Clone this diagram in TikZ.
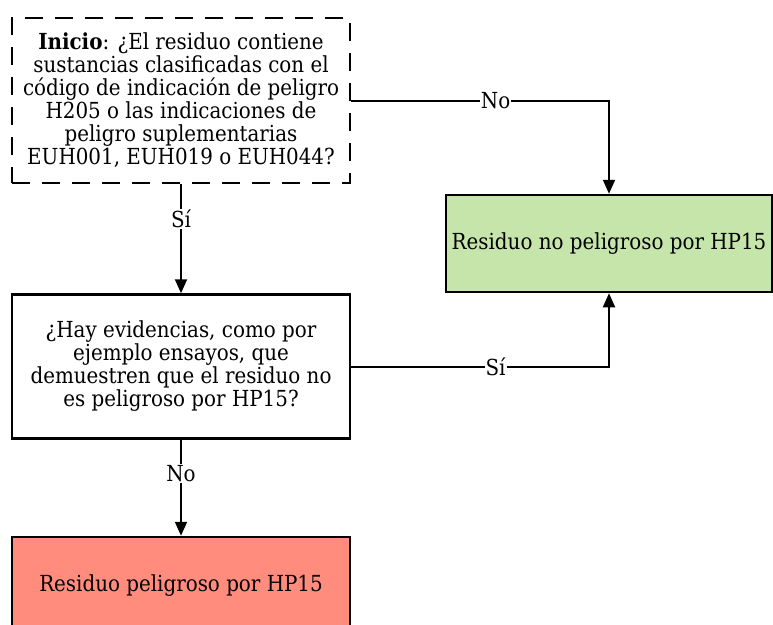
\documentclass[tikz,border=0pt]{standalone}
\usepackage{fontspec}
\setmainfont{DejaVu Serif Condensed}
\usepackage{tikz}
\usetikzlibrary{positioning,arrows.meta}
\definecolor{SafeGreen}{HTML}{C6E5AB}
\definecolor{HazardRed}{HTML}{FF8C7D}

\begin{document}
\begin{tikzpicture}[
      x=1pt, y=-1pt,
      every node/.style={align=center, font=\fontsize{22.1}{23}\selectfont},
      startbox/.style={draw, dash pattern=on 18pt off 12pt, line width=2.5pt, minimum width=338pt, minimum height=165pt},
      decision/.style={draw, fill=white, line width=2.5pt, minimum width=338pt, minimum height=144pt},
      outcome/.style={draw, line width=2.5pt, minimum height=97pt},
      arrow/.style={line width=2pt, -{Triangle[length=14pt,width=12pt]}},
      edgetext/.style={fill=white, inner sep=1pt}
    ]
      \useasboundingbox (0,0) rectangle (773,624);

      \node[startbox] (inicio) at (181,100.5) {\textbf{Inicio}: ¿El residuo contiene\\sustancias clasificadas con el\\código de indicación de peligro\\H205 o las indicaciones de\\peligro suplementarias\\EUH001, EUH019 o EUH044?};
      \node[decision, below=109pt of inicio] (evidencia) {¿Hay evidencias, como por\\ejemplo ensayos, que\\demuestren que el residuo no\\es peligroso por HP15?};
      \node[outcome, fill=HazardRed, minimum width=338pt, below=96pt of evidencia] (peligroso) {Residuo peligroso por HP15};
      \node[outcome, fill=SafeGreen, minimum width=326pt] (nopeligroso) at (609,243.5) {Residuo no peligroso por HP15};

      \draw[arrow] (inicio) -- node[edgetext, pos=0.32] {Sí} (evidencia);
      \draw[arrow] (inicio.east) -| node[edgetext, pos=0.28] {No} (nopeligroso.north);
      \draw[arrow] (evidencia.east) -| node[edgetext, pos=0.28] {Sí} (nopeligroso.south);
      \draw[arrow] (evidencia) -- node[edgetext, pos=0.35] {No} (peligroso);

    \end{tikzpicture}
\end{document}
